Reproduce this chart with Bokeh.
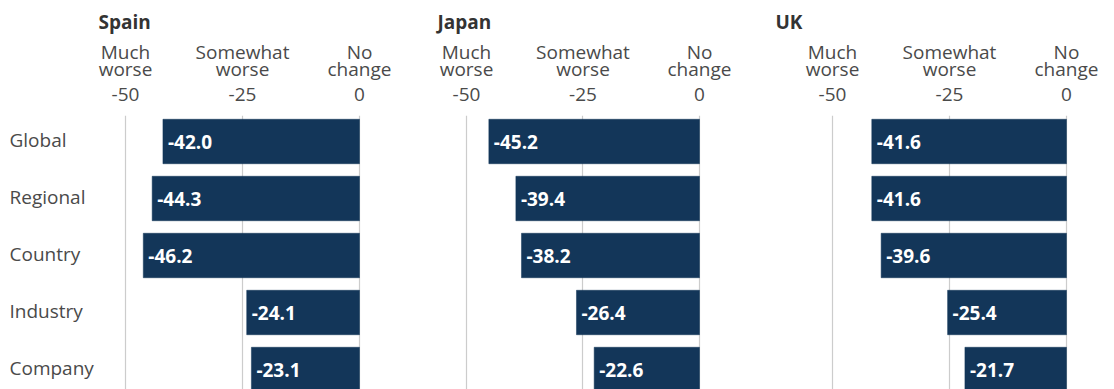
from bokeh.plotting import figure
from bokeh.models import Range1d, LinearAxis, FixedTicker, Grid, ColumnDataSource
from bokeh.layouts import row
from bokeh.core.properties import value
from bokeh.embed import file_html
from bokeh.resources import INLINE

categories = ["Global", "Regional", "Country", "Industry", "Company"]
countries = ["Spain", "Japan", "UK"]
spain = [-42.0, -44.3, -46.2, -24.1, -23.1]
japan = [-45.2, -39.4, -38.2, -26.4, -22.6]
uk = [-41.6, -41.6, -39.6, -25.4, -21.7]
tick_values = [-50, -25, 0]
tick_labels = ["-50", "-25", "0"]
tick_line1 = ["Much", "Somewhat", "No"]
tick_line2 = ["worse", "worse", "change"]

series = [spain, japan, uk]

FONT = "Open Sans"
FS = "19px"
BAR = "#133659"
GRAY = "#4a4a4a"
DARK = "#333333"

# layout: figure width, x range, title offset
widths = [400, 360, 354]
xranges = [(-76.71, 8.76), (-64.16, 13.09), (-65.38, 10.26)]
title_offsets = [98, 37, 15]

H = 389
TOP = 115
ROW = 57.0
y_top = -26.0 / ROW
y_bottom = y_top + (H - TOP) / ROW


def style_axis(ax, standoff):
    ax.axis_line_color = None
    ax.major_tick_line_color = None
    ax.minor_tick_line_color = None
    ax.major_tick_out = 0
    ax.major_tick_in = 0
    ax.major_label_standoff = standoff
    ax.major_label_text_font = FONT
    ax.major_label_text_font_size = FS
    ax.major_label_text_color = GRAY


figs = []
for k, (name, vals) in enumerate(zip(countries, series)):
    p = figure(width=widths[k], height=H,
               x_range=Range1d(*xranges[k]),
               y_range=Range1d(y_bottom, y_top),
               output_backend="svg", toolbar_location=None,
               x_axis_location=None, y_axis_location=None,
               min_border_left=0, min_border_right=0,
               min_border_top=TOP, min_border_bottom=0)
    p.outline_line_color = None
    p.background_fill_color = "white"
    p.border_fill_color = "white"
    for r in list(p.center):
        if isinstance(r, Grid):
            r.visible = False

    p.title.text = name
    p.title.align = "left"
    p.title.offset = title_offsets[k]
    p.title.text_font = FONT
    p.title.text_font_size = FS
    p.title.text_font_style = "bold"
    p.title.text_color = DARK
    p.title.standoff = 2

    ticker = FixedTicker(ticks=tick_values)
    grid = Grid(dimension=0, ticker=ticker, grid_line_color="#cccccc",
                grid_line_width=1.2)
    p.add_layout(grid, "center")

    ax_num = LinearAxis(ticker=ticker,
                        major_label_overrides=dict(zip(tick_values, tick_labels)))
    style_axis(ax_num, 15)
    ax_w2 = LinearAxis(ticker=ticker,
                       major_label_overrides=dict(zip(tick_values, tick_line2)))
    style_axis(ax_w2, 3)
    ax_w1 = LinearAxis(ticker=ticker,
                       major_label_overrides=dict(zip(tick_values, tick_line1)))
    style_axis(ax_w1, -12)
    p.add_layout(ax_num, "above")
    p.add_layout(ax_w2, "above")
    p.add_layout(ax_w1, "above")

    src = ColumnDataSource(dict(
        y=list(range(len(categories))),
        left=vals,
        label=["%.1f" % v for v in vals],
        cat=categories,
    ))
    p.hbar(y="y", left="left", right=0, height=0.78, source=src,
           fill_color=BAR, line_color=BAR, line_width=0.5)
    p.text(x="left", y="y", text="label", source=src, x_offset=5,
           text_align="left", text_baseline="middle",
           text_color="white", text_font=value(FONT),
           text_font_style="bold", text_font_size=FS)

    if k == 0:
        p.text(x=xranges[0][0] + 9.0 / 4.68, y="y", text="cat", source=src,
               y_offset=-2,
               text_align="left", text_baseline="middle",
               text_color=GRAY, text_font=value(FONT),
               text_font_size=FS)
    figs.append(p)

layout = row(*figs, spacing=0)
open("out.html", "w").write(file_html(layout, INLINE))
